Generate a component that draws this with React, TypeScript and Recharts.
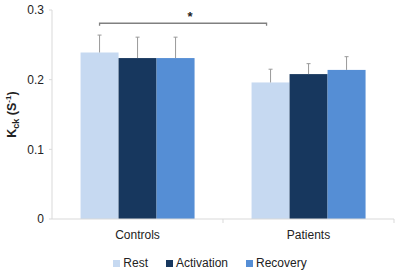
import React from 'react';
import { BarChart, Bar, XAxis, YAxis, Legend } from 'recharts';

const categories = ['Controls', 'Patients'];
const seriesNames = ['Rest', 'Activation', 'Recovery'];
const restValues = [0.239, 0.196];
const activationValues = [0.231, 0.208];
const recoveryValues = [0.231, 0.214];
const restErrors = [0.025, 0.019];
const activationErrors = [0.030, 0.015];
const recoveryErrors = [0.030, 0.019];
const yTicks = [0, 0.1, 0.2, 0.3];
const significanceLabel = '*';
const bracketValue = 0.281;

const colors = ['#C6D9F1', '#17375E', '#558ED5'];
const FONT = '"Liberation Sans", Arial, sans-serif';

const data = categories.map((c, i) => ({
  name: c,
  Rest: restValues[i],
  Activation: activationValues[i],
  Recovery: recoveryValues[i],
  RestErr: restErrors[i],
  ActivationErr: activationErrors[i],
  RecoveryErr: recoveryErrors[i],
}));

const restCenters: Record<number, { cx: number; ppu: number; base: number }> = {};

const makeShape = (key: string, withBracket: boolean) => (props: any) => {
  const { x, y, width, height, fill, payload, index, value } = props;
  const v = Array.isArray(value) ? value[1] - value[0] : payload[key];
  const ppu = v ? height / v : 0;
  const err = payload[key + 'Err'];
  const cx = x + width / 2;
  const top = y - err * ppu;
  const base = y + height;
  let bracket = null;
  if (withBracket) {
    restCenters[index] = { cx, ppu, base };
    if (index === 1 && restCenters[0]) {
      const left = restCenters[0].cx;
      const right = cx - 4;
      const by = base - bracketValue * ppu;
      bracket = (
        <g>
          <path
            d={`M${left},${by + 2.5} L${left},${by} L${right},${by} L${right},${by + 2.5}`}
            stroke="#808080"
            strokeWidth={1.3}
            fill="none"
          />
          <text
            x={(left + right) / 2 + 7}
            y={by - 2}
            textAnchor="middle"
            fontFamily={FONT}
            fontSize={13}
            fontWeight="bold"
            fill="#222"
          >
            {significanceLabel}
          </text>
        </g>
      );
    }
  }
  return (
    <g>
      <rect x={x} y={y} width={width} height={height} fill={fill} />
      <line x1={cx} x2={cx} y1={y} y2={top} stroke="#9a9a9a" strokeWidth={1} />
      <line x1={cx - 2} x2={cx + 2} y1={top} y2={top} stroke="#9a9a9a" strokeWidth={1} />
      {bracket}
    </g>
  );
};

const XTick = (props: any) => {
  const { x, y, payload } = props;
  const off = payload.offset || 0;
  const axisY = y - 3;
  return (
    <g>
      <line x1={x + off} x2={x + off} y1={axisY} y2={axisY + 4} stroke="#d9d9d9" />
      <text x={x} y={y + 17} textAnchor="middle" fontFamily={FONT} fontSize={12} fill="#222">
        {payload.value}
      </text>
    </g>
  );
};

const YLabel = (props: any) => {
  const vb = props.viewBox || {};
  const cy = vb.y + vb.height / 2;
  const cx = 16;
  return (
    <text
      transform={`rotate(-90, ${cx}, ${cy})`}
      x={cx}
      y={cy}
      textAnchor="middle"
      fontFamily={FONT}
      fontSize={12.5}
      fontWeight="bold"
      fill="#222"
    >
      K
      <tspan fontSize={9} dy={3}>ck</tspan>
      <tspan dy={-3}> (S</tspan>
      <tspan fontSize={8} dy={-5}>-1</tspan>
      <tspan dy={5}>)</tspan>
    </text>
  );
};

const LegendContent = () => (
  <div
    style={{
      display: 'flex',
      justifyContent: 'center',
      paddingLeft: 26,
      paddingTop: 7,
      fontFamily: FONT,
      fontSize: 12,
      color: '#222',
    }}
  >
    {seriesNames.map((n, i) => (
      <div key={n} style={{ display: 'flex', alignItems: 'center', marginRight: i < 2 ? 18 : 0 }}>
        <span style={{ width: 7, height: 7, background: colors[i], display: 'inline-block', marginRight: 3 }} />
        <span>{n}</span>
      </div>
    ))}
  </div>
);

export default function App() {
  return (
    <div style={{ position: 'absolute', left: 0, top: 0 }}>
      <BarChart
        width={400}
        height={275}
        data={data}
        margin={{ top: 10, right: 6, left: 0, bottom: 4 }}
        barGap={0}
        barCategoryGap="16.7%"
      >
        <YAxis
          width={52}
          domain={[0, 0.3]}
          ticks={yTicks}
          tickFormatter={(v: number) => String(v)}
          stroke="#d9d9d9"
          tickSize={3}
          tickMargin={5}
          tick={{ fill: '#222', fontFamily: FONT, fontSize: 12 }}
          label={<YLabel />}
        />
        <XAxis
          dataKey="name"
          stroke="#d9d9d9"
          tickLine={false}
          tickSize={3}
          tickMargin={0}
          height={30}
          tick={<XTick />}
        />
        <Legend verticalAlign="bottom" height={22} content={<LegendContent />} />
        {seriesNames.map((n, i) => (
          <Bar
            key={n}
            dataKey={n}
            fill={colors[i]}
            isAnimationActive={false}
            shape={makeShape(n, i === 0)}
          />
        ))}
      </BarChart>
    </div>
  );
}
